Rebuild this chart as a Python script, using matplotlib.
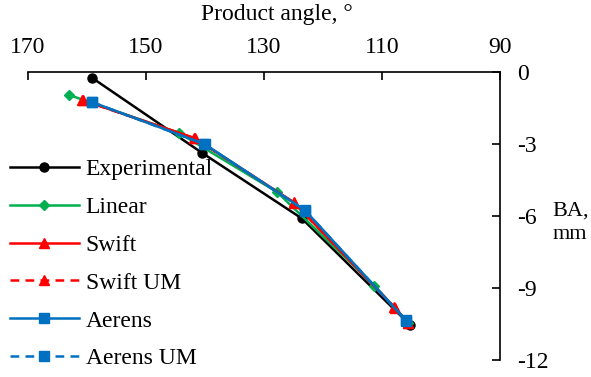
import matplotlib.pyplot as plt

plt.rcParams['font.family'] = ['Liberation Serif', 'DejaVu Serif']
plt.rcParams['font.size'] = 17
plt.rcParams['axes.unicode_minus'] = False

# Product angle (deg) and BA (mm)
exp_angle = [159.1, 140.5, 123.6, 105.2]
exp_ba = [-0.25, -3.37, -6.1, -10.55]

lin_angle = [163.0, 144.4, 127.8, 111.3, 105.6]
lin_ba = [-0.96, -2.54, -5.0, -8.9, -10.45]

swift_angle = [160.8, 141.8, 125.0, 107.9, 105.6]
swift_ba = [-1.17, -2.75, -5.42, -9.8, -10.45]

swift_um_angle = [160.7, 141.7, 124.9, 107.8, 105.6]
swift_um_ba = [-1.18, -2.77, -5.45, -9.82, -10.47]

aer_angle = [159.2, 140.1, 123.1, 106.0]
aer_ba = [-1.25, -3.0, -5.75, -10.33]

aer_um_angle = [159.1, 140.0, 123.0, 105.9]
aer_um_ba = [-1.26, -3.02, -5.78, -10.36]

fig = plt.figure(figsize=(5.91, 3.77), dpi=100)
ax = fig.add_axes([28/591, 1 - 360/377, (500 - 28)/591, (360 - 72)/377])

lw = 1.8
ax.plot(exp_angle, exp_ba, color='black', lw=lw, marker='o', ms=6.5, label='Experimental')
ax.plot(lin_angle, lin_ba, color='#00B050', lw=lw, marker='D', ms=5, label='Linear')
ax.plot(swift_angle, swift_ba, color='#FF0000', lw=lw, marker='^', ms=7, label='Swift')
ax.plot(swift_um_angle, swift_um_ba, color='#FF0000', lw=lw, ls=(0, (3.5, 2.5)), marker='^', ms=7, label='Swift UM')
ax.plot(aer_angle, aer_ba, color='#0070C0', lw=lw, marker='s', ms=7, label='Aerens')
ax.plot(aer_um_angle, aer_um_ba, color='#0070C0', lw=lw, ls=(0, (3.5, 2.5)), marker='s', ms=7, label='Aerens UM')

ax.set_xlim(170, 90)
ax.set_ylim(-12, 0)
ax.set_xticks([170, 150, 130, 110, 90])
ax.set_yticks([0, -3, -6, -9, -12])
ax.xaxis.tick_top()
ax.yaxis.tick_right()
ax.tick_params(direction='in', length=6, width=1.2, labelsize=17)
ax.tick_params(axis='x', pad=10)
ax.tick_params(axis='y', pad=12)
for side in ['left', 'bottom']:
    ax.spines[side].set_visible(False)
for side in ['top', 'right']:
    ax.spines[side].set_linewidth(1.2)

ax.set_xlabel('Product angle, °', fontsize=17, va='center')
ax.xaxis.set_label_position('top')
ax.xaxis.set_label_coords(0.527, 1.18)
ax.set_ylabel('BA,\nmm', fontsize=16, rotation=0, ha='left', va='center', linespacing=1.3)
ax.yaxis.set_label_position('right')
ax.yaxis.set_label_coords(1.112, 0.55)

leg = fig.legend(loc='upper left', bbox_to_anchor=(0.009, 1 - 154/377), frameon=False,
                 fontsize=17, handlelength=2.9, handletextpad=0.3, labelspacing=0.69,
                 borderaxespad=0, borderpad=0.2)

fig.savefig('out.png', dpi=100)
